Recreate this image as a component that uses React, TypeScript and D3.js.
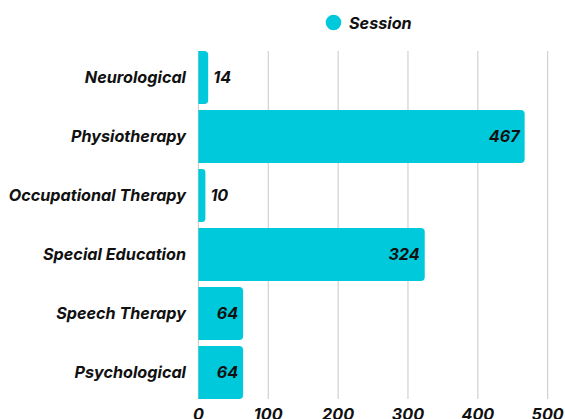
import React from "react";
import * as d3 from "d3";

const categories = ["Neurological", "Physiotherapy", "Occupational Therapy", "Special Education", "Speech Therapy", "Psychological"];
const sessions = [14, 467, 10, 324, 64, 64];
const xTicks = [0, 100, 200, 300, 400, 500];
const seriesName = "Session";

const W = 565, H = 419;
const COLOR = "#00C9DB";
const FONT = "Inter, 'Open Sans', sans-serif";
const FS = 16.2;

function barPath(x0: number, y0: number, w: number, h: number, r: number) {
  const rr = Math.min(r, w / 2, h / 2);
  return `M${x0},${y0} H${x0 + w - rr} Q${x0 + w},${y0} ${x0 + w},${y0 + rr} V${y0 + h - rr} Q${x0 + w},${y0 + h} ${x0 + w - rr},${y0 + h} H${x0} Z`;
}

export default function App() {
  const x = d3.scaleLinear().domain([0, 500]).range([198.4, 547.7]);
  const y = d3.scaleBand<string>().domain(categories).range([51, 399]).paddingInner(0.1).paddingOuter(0);
  return (
    <svg width={W} height={H} style={{ position: "absolute", left: 0, top: 0, background: "#fff" }} fontFamily={FONT}>
      {xTicks.map((t) => (
        <line key={t} x1={x(t)} x2={x(t)} y1={51} y2={399} stroke="#c8c8c8" strokeWidth={1} />
      ))}
      {categories.map((c, i) => {
        const v = sessions[i];
        const y0 = y(c)!;
        const bw = x(v) - x(0);
        const inside = bw > 40;
        return (
          <g key={c}>
            <path d={barPath(x(0), y0, bw, y.bandwidth(), 4)} fill={COLOR} />
            <text x={186} y={y0 + y.bandwidth() / 2} dy="0.35em" textAnchor="end" fontSize={FS} fontWeight={700} fontStyle="italic" fill="#111">{c}</text>
            <text x={inside ? x(v) - 5 : x(v) + 5} y={y0 + y.bandwidth() / 2} dy="0.35em" textAnchor={inside ? "end" : "start"} fontSize={FS} fontWeight={700} fontStyle="italic" fill="#111">{v}</text>
          </g>
        );
      })}
      {xTicks.map((t) => (
        <text key={"l" + t} x={x(t)} y={420} textAnchor="middle" fontSize={FS} fontWeight={700} fontStyle="italic" fill="#111">{t}</text>
      ))}
      <circle cx={333.5} cy={22.5} r={7.8} fill={COLOR} />
      <text x={349} y={28.5} fontSize={FS} fontWeight={700} fontStyle="italic" fill="#111">{seriesName}</text>
    </svg>
  );
}
